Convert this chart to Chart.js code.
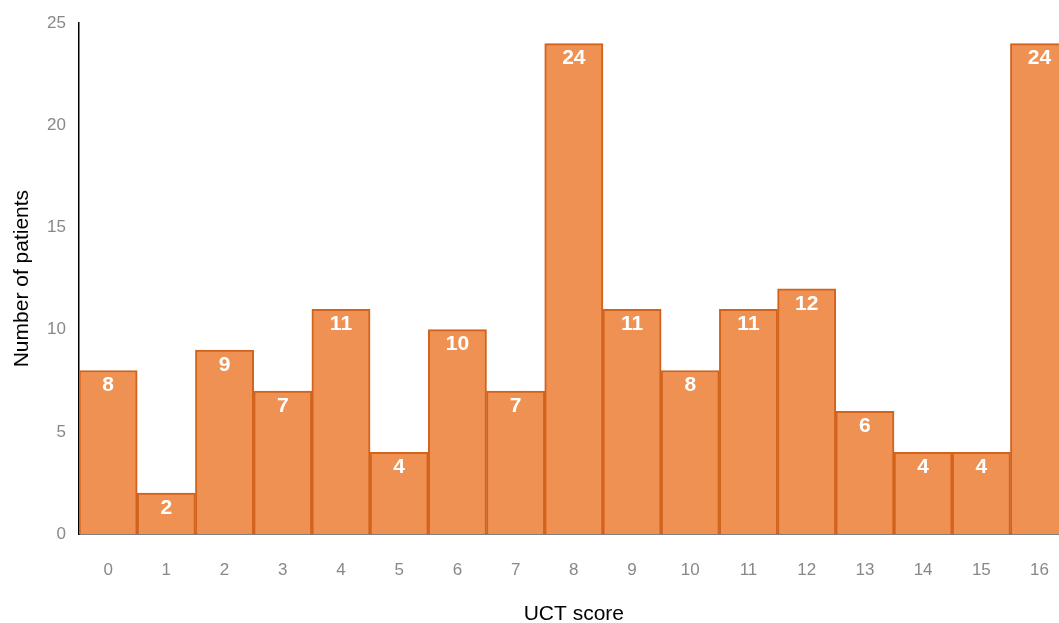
<!DOCTYPE html>
<html>
<head>
<meta charset="utf-8">
<script src="https://cdn.jsdelivr.net/npm/chart.js@4/dist/chart.umd.min.js"></script>
<style>
html,body{margin:0;padding:0;background:#fff;overflow:hidden;width:1059px;height:623px;}
#wrap{width:1059px;height:623px;overflow:hidden;position:relative;}
canvas{display:block;}
</style>
</head>
<body>
<div id="wrap"><canvas id="c" width="1075" height="623"></canvas></div>
<script>
const categories = ["0","1","2","3","4","5","6","7","8","9","10","11","12","13","14","15","16"];
const patients = [8, 2, 9, 7, 11, 4, 10, 7, 24, 11, 8, 11, 12, 6, 4, 4, 24];
const xTitle = "UCT score";
const yTitle = "Number of patients";

const FONT = "'Liberation Sans', Arial, Helvetica, sans-serif";

const valueLabels = {
  id: 'valueLabels',
  afterDatasetsDraw(chart) {
    const ctx = chart.ctx;
    const meta = chart.getDatasetMeta(0);
    ctx.save();
    ctx.fillStyle = '#ffffff';
    ctx.font = 'bold 21px ' + FONT;
    ctx.textAlign = 'center';
    ctx.textBaseline = 'middle';
    meta.data.forEach((bar, i) => {
      ctx.fillText(String(patients[i]), bar.x, bar.y + 15);
    });
    ctx.restore();
  }
};

new Chart(document.getElementById('c'), {
  type: 'bar',
  data: {
    labels: categories,
    datasets: [{
      data: patients,
      backgroundColor: '#EF9152',
      borderColor: '#D2631D',
      borderWidth: 2,
      categoryPercentage: 1,
      barPercentage: 1
    }]
  },
  options: {
    responsive: false,
    devicePixelRatio: 1,
    animation: false,
    layout: { padding: { top: 21, right: 0, bottom: 0, left: 0 } },
    plugins: { legend: { display: false }, tooltip: { enabled: false } },
    scales: {
      x: {
        z: 1,
        grid: { display: false, drawTicks: false },
        border: { display: true, color: '#000', width: 1.5 },
        ticks: { color: '#888', font: { family: FONT, size: 17 }, padding: 26 },
        title: { display: true, text: xTitle, color: '#000', font: { family: FONT, size: 21 }, padding: { top: 0, bottom: -4 } },
        afterFit(s) { s.height = 89; }
      },
      y: {
        z: 1,
        min: 0, max: 25,
        grid: { display: false, drawTicks: false },
        border: { display: true, color: '#000', width: 1.5 },
        ticks: { stepSize: 5, color: '#888', font: { family: FONT, size: 17 }, padding: 13 },
        title: { display: true, text: yTitle, color: '#000', font: { family: FONT, size: 21 }, padding: { top: 10, bottom: 0 } },
        afterFit(s) { s.width = 79; }
      }
    }
  },
  plugins: [valueLabels]
});
</script>
</body>
</html>
